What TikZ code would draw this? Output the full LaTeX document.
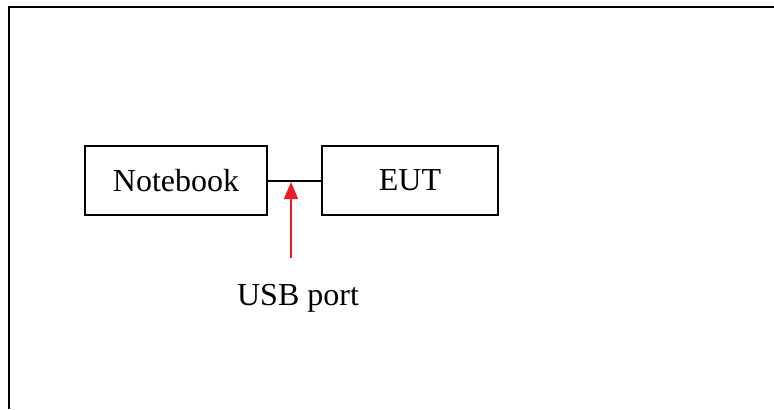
\documentclass[tikz,border=0pt]{standalone}
\usepackage{fontspec}
\setmainfont{Liberation Serif}
\usetikzlibrary{arrows.meta}
\definecolor{usbred}{RGB}{237,28,36}
\tikzset{
    unit/.style={draw,line width=1pt,minimum height=34.5pt,inner sep=0pt,font=\fontsize{16}{19}\selectfont},
}

\begin{document}
\begin{tikzpicture}[x=0.5pt,y=-0.5pt]
	\useasboundingbox (0,0) rectangle (774,409);
	% frame
	\draw[line width=1.3pt] (9,409) -- (9,7) -- (774,7);

	\node[unit,minimum width=91pt] (notebook) at (176,180.5) {Notebook};
	\node[unit,minimum width=88pt] (eut) at (410,180.5) {EUT};
	\draw[line width=1pt] (notebook) -- (eut);

	\coordinate (tip) at (291,182);
	\coordinate (tail) at (291,258);
	\draw[usbred,line width=0.75pt,-{Triangle[length=8.5pt,width=7pt]}] (tail) -- (tip);
	\node[font=\fontsize{16}{19}\selectfont] (usb) at (298,298) {USB port};

	\end{tikzpicture}
\end{document}
